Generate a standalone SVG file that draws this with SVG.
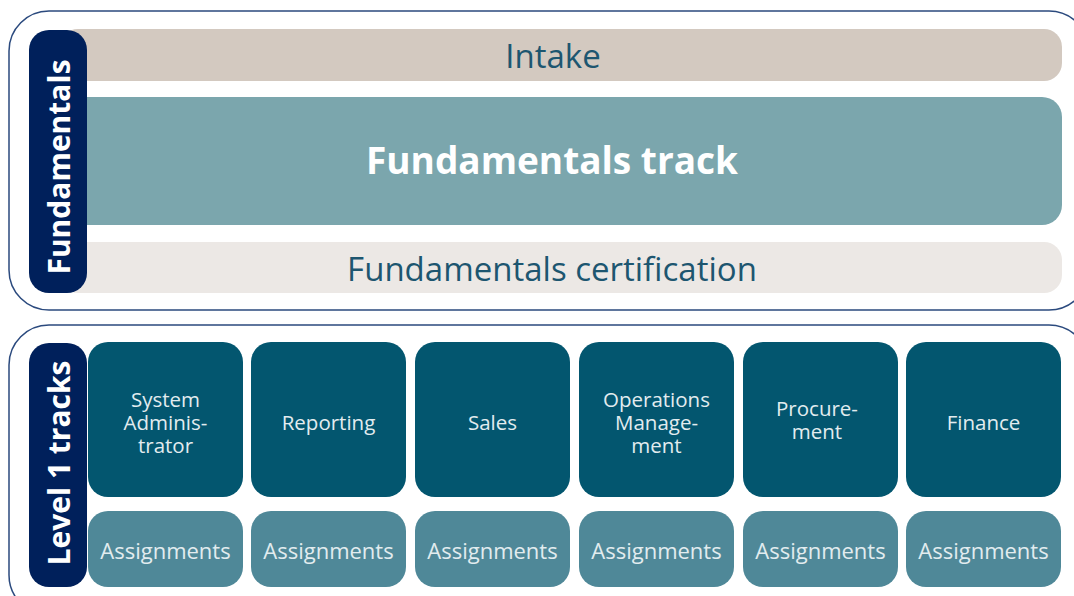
<svg xmlns="http://www.w3.org/2000/svg" width="1074" height="596" viewBox="0 0 1074 596">
<style>
.frame{fill:#fff;stroke:#2b4a7e;stroke-width:1.5}
.pill{fill:#00205b}
.side{font-family:"Open Sans",sans-serif;font-weight:700;font-size:30px;fill:#fff;text-anchor:middle;dominant-baseline:central}
.bar{font-family:"Open Sans",sans-serif;font-size:33px;fill:#1d5670;text-anchor:middle;dominant-baseline:central}
.big{font-family:"Open Sans",sans-serif;font-weight:700;font-size:37px;fill:#fff;text-anchor:middle;dominant-baseline:central}
.track{fill:#03566f}
.asg{fill:#4f8898}
.tt{font-family:"Open Sans",sans-serif;font-size:20.5px;fill:#e2ecef;text-anchor:middle;dominant-baseline:central}
.at{font-family:"Open Sans",sans-serif;font-size:22px;fill:#e2ecef;text-anchor:middle;dominant-baseline:central}
</style>
<g id="fundamentals-frame">
<rect class="frame" x="9" y="11" width="1080" height="299" rx="40"/>
</g>
<g id="intake"><rect x="60" y="29" width="1002" height="52" rx="18" fill="#d3c9c0"/><text class="bar" x="553" y="55">Intake</text></g>
<g id="fundamentals-track"><rect x="60" y="97" width="1002" height="128" rx="20" fill="#7ba6ad"/><text class="big" x="552" y="159">Fundamentals track</text></g>
<g id="certification"><rect x="60" y="242" width="1002" height="51" rx="18" fill="#ece8e5"/><text class="bar" x="552" y="268">Fundamentals certification</text></g>
<g id="fundamentals-label"><rect class="pill" x="29" y="30" width="58" height="263" rx="20"/><text class="side" transform="translate(58 167) rotate(-90)">Fundamentals</text></g>
<g id="level1-frame">
<rect class="frame" x="9" y="325" width="1080" height="290" rx="40"/>
</g>
<g id="level1-label"><rect class="pill" x="29" y="343" width="58" height="244" rx="20"/><text class="side" transform="translate(58 463) rotate(-90)">Level 1 tracks</text></g>
<g id="track-sysadmin"><rect class="track" x="88" y="342" width="155" height="155" rx="20"/><text class="tt"><tspan x="165.5" y="399">System</tspan><tspan x="165.5" y="422">Adminis-</tspan><tspan x="165.5" y="445">trator</tspan></text></g>
<g id="track-reporting"><rect class="track" x="251" y="342" width="155" height="155" rx="20"/><text class="tt" x="328.5" y="422">Reporting</text></g>
<g id="track-sales"><rect class="track" x="415" y="342" width="155" height="155" rx="20"/><text class="tt" x="492.5" y="422">Sales</text></g>
<g id="track-operations"><rect class="track" x="579" y="342" width="155" height="155" rx="20"/><text class="tt"><tspan x="656.5" y="399">Operations</tspan><tspan x="656.5" y="422">Manage-</tspan><tspan x="656.5" y="445">ment</tspan></text></g>
<g id="track-procurement"><rect class="track" x="743" y="342" width="155" height="155" rx="20"/><text class="tt"><tspan x="817" y="408">Procure-</tspan><tspan x="817" y="431">ment</tspan></text></g>
<g id="track-finance"><rect class="track" x="906" y="342" width="155" height="155" rx="20"/><text class="tt" x="983.5" y="422">Finance</text></g>
<g id="asg-1"><rect class="asg" x="88" y="511" width="155" height="76" rx="20"/><text class="at" x="165.5" y="550">Assignments</text></g>
<g id="asg-2"><rect class="asg" x="251" y="511" width="155" height="76" rx="20"/><text class="at" x="328.5" y="550">Assignments</text></g>
<g id="asg-3"><rect class="asg" x="415" y="511" width="155" height="76" rx="20"/><text class="at" x="492.5" y="550">Assignments</text></g>
<g id="asg-4"><rect class="asg" x="579" y="511" width="155" height="76" rx="20"/><text class="at" x="656.5" y="550">Assignments</text></g>
<g id="asg-5"><rect class="asg" x="743" y="511" width="155" height="76" rx="20"/><text class="at" x="820.5" y="550">Assignments</text></g>
<g id="asg-6"><rect class="asg" x="906" y="511" width="155" height="76" rx="20"/><text class="at" x="983.5" y="550">Assignments</text></g>
<g id="connectors"/>
</svg>
